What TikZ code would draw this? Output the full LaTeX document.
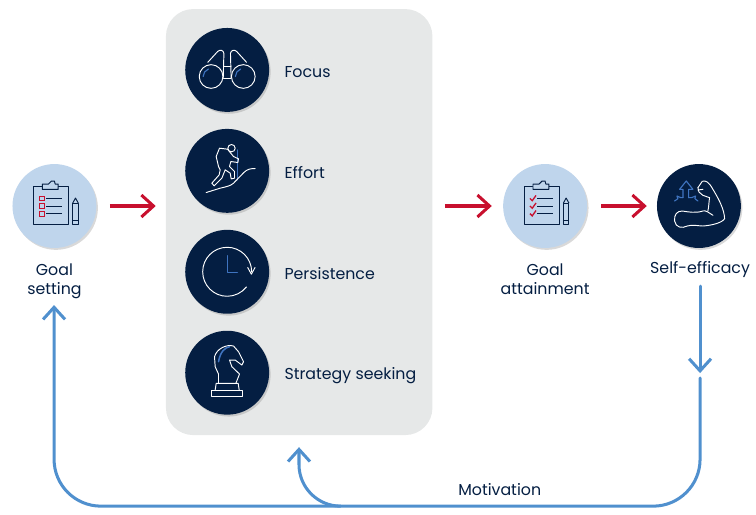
\documentclass[tikz,border=0pt]{standalone}
\usepackage{xcolor}
\usepackage{fontspec}
\setmainfont{Poppins}
\usetikzlibrary{arrows.meta,shadows}
\definecolor{navyblue}{HTML}{041E42}
\definecolor{paleblue}{HTML}{BFD5EC}
\definecolor{panelgrey}{HTML}{E6E8E8}
\definecolor{crimson}{HTML}{C8102E}
\definecolor{loopblue}{HTML}{5090CE}
\definecolor{iconblue}{HTML}{3F74C0}
\tikzset{
  darkdot/.style={circle,fill=navyblue,minimum size=2.22cm,inner sep=0pt,drop shadow={shadow xshift=0.4mm,shadow yshift=-0.5mm,opacity=0.3}},
  paledot/.style={circle,fill=paleblue,minimum size=2.22cm,inner sep=0pt,drop shadow={shadow xshift=0.4mm,shadow yshift=-0.5mm,opacity=0.3}},
  lbl/.style={text=navyblue,inner sep=0pt,font=\fontsize{11.9pt}{14.4pt}\selectfont,align=center},
  redarrow/.style={crimson,line width=0.8mm,-{Straight Barb[length=3.2mm,width=5.8mm,line width=0.8mm]}},
  bluearrow/.style={loopblue,line width=0.8mm,line cap=round,-{Straight Barb[length=3.2mm,width=5.8mm,line width=0.8mm]}},
  iconline/.style={white,line width=0.25mm,line join=round,line cap=round},
  iconaccent/.style={iconblue,line width=0.3mm,line join=round,line cap=round},
  clipline/.style={navyblue,line width=0.25mm,line join=round}
}
% clipboard icon, drawn round the origin, #1 = the marks at the left of the lines
\newcommand{\clipicon}[1]{
  \draw[clipline] (-0.55,0.53) rectangle (0.37,-0.5);
  \draw[clipline,fill=paleblue] (-0.32,0.44) -- (-0.32,0.58) -- (-0.16,0.58) -- (-0.08,0.66) -- (0,0.66) -- (0.02,0.58) -- (0.1,0.58) -- (0.1,0.44) -- cycle;
  \foreach \yy in {0.2,0,-0.2} {
    \draw[clipline] (-0.21,\yy) -- (0.21,\yy);
    #1
  }
  \draw[clipline] (0.485,-0.5) rectangle (0.63,0.08);
  \draw[clipline] (0.485,0.08) -- (0.557,0.21) -- (0.63,0.08);
  \draw[clipline] (0.485,-0.39) -- (0.63,-0.39);
}
\begin{document}
\begin{tikzpicture}[x=0.1cm,y=-0.1cm]
  \useasboundingbox (0,0) rectangle (200,136.24);
  \fill[panelgrey,rounded corners=0.72cm] (43.9,2.4) rectangle (114.4,115.1);
  % circles
  \node[paledot] (goalset) at (14.4,54.5) {};
  \node[paledot] (goalatt) at (144.2,54.5) {};
  \node[darkdot] (efficacy) at (184.9,54.5) {};
  \node[darkdot] (focus) at (60.1,18.5) {};
  \node[darkdot] (effort) at (60.1,45.2) {};
  \node[darkdot] (persist) at (60.1,71.9) {};
  \node[darkdot] (strategy) at (60.1,98.6) {};
  % labels
  \node[lbl,anchor=west] (focustxt) at (75.2,19) {Focus};
  \node[lbl,anchor=west] (efforttxt) at (75.2,45.7) {Effort};
  \node[lbl,anchor=west] (persisttxt) at (75.2,72.4) {Persistence};
  \node[lbl,anchor=west] (strategytxt) at (75.2,99.3) {Strategy seeking};
  \node[lbl] (goalsettxt) at (14.4,74.4) {Goal\\setting};
  \node[lbl] (goalatttxt) at (144.2,73.9) {Goal\\attainment};
  \node[lbl] (efficacytxt) at (185.2,71.3) {Self-efficacy};
  \node[lbl] (motivtxt) at (132.2,129.6) {Motivation};
  % red arrows
  \coordinate (r1a) at (29.1,54.5);  \coordinate (r1b) at (41.2,54.5);
  \coordinate (r2a) at (117.7,54.5); \coordinate (r2b) at (130.1,54.5);
  \coordinate (r3a) at (159,54.5); \coordinate (r3b) at (171.1,54.5);
  \draw[redarrow] (r1a) -- (r1b);
  \draw[redarrow] (r2a) -- (r2b);
  \draw[redarrow] (r3a) -- (r3b);
  % blue loop
  \coordinate (dropa) at (185.2,75.7);
  \coordinate (dropb) at (185.2,98.7);
  \coordinate (loopa) at (185.2,100);
  \coordinate (goalend) at (14.3,80.7);
  \coordinate (panelend) at (79.1,118.3);
  \draw[bluearrow] (dropa) -- (dropb);
  \draw[bluearrow] (loopa) -- (185.2,121.5) arc[start angle=0,end angle=90,radius=12.4] -- (26.7,133.9) arc[start angle=90,end angle=180,radius=12.4] -- (goalend);
  \draw[bluearrow] (90.1,133.9) arc[start angle=90,end angle=180,radius=11] -- (panelend);
  % binoculars
  \begin{scope}[shift={(focus)},x=0.087cm,y=-0.087cm]
    \draw[iconline] (-4.9,2) circle[radius=3.6];
    \draw[iconline] (4.9,2) circle[radius=3.6];
    \draw[iconline] (-5.9,-2.3) -- (-2.9,-5.6) .. controls (-2.2,-6.3) and (-1.1,-6) .. (-1,-5) -- (-1.2,2.5);
    \draw[iconline] (5.9,-2.3) -- (2.9,-5.6) .. controls (2.2,-6.3) and (1.1,-6) .. (1,-5) -- (1.2,2.5);
    \draw[iconline] (-1.1,-1.2) -- (1.1,-1.2) (-1.1,2.5) -- (1.1,2.5);
    \draw[iconaccent] (-7.3,2) arc[start angle=180,end angle=250,radius=2.4];
    \draw[iconaccent] (2.5,2) arc[start angle=180,end angle=250,radius=2.4];
  \end{scope}
  % hiker
  \begin{scope}[shift={(effort)},x=0.00882cm,y=-0.00882cm]
    \draw[iconline] (13,-68) circle[radius=11];
    \draw[iconaccent] (32,-63) -- (32,27);
    \draw[iconline] (1,-65) -- (19,-43) -- (34,-36) -- (32,-25) -- (11,-28) -- (7,-13) -- (22,2) -- (22,22) -- (12,24) -- (9,7) -- (-6,-3) -- (-16,22) -- (-39,45) -- (-46,37) -- (-24,12) -- (-21,-3) -- (-26,-13) -- (-33,-43) -- (-23,-68) -- cycle;
    \draw[iconline] (-63,65) -- (-21,52) .. controls (0,47) and (10,45) .. (19,37) -- (50,5) .. controls (60,-5) and (70,-7) .. (84,-7);
  \end{scope}
  % clock
  \begin{scope}[shift={(persist)},x=0.08cm,y=-0.08cm]
    \draw[iconline] (8.1,0) arc[start angle=0,end angle=-322,radius=8.1];
    \draw[iconline] (6.8,-1.4) -- (8,0.8) -- (9.2,-1.4);
    \draw[iconaccent] (0,-5.3) -- (0,0.3) -- (3.4,0.3);
  \end{scope}
  % knight
  \begin{scope}[shift={(strategy)},x=0.00882cm,y=-0.00882cm]
    \draw[iconline] (-26,32) -- (-26,4) -- (-36,-18) -- (-38,-48) .. controls (-31,-73) and (-1,-86) .. (19,-80) -- (34,-63) -- (49,-33) -- (44,-23) -- (24,-38) -- (7,-38) -- (14,-18) -- (37,4) -- (26,32);
    \draw[iconline] (-36,52) -- (-33,32) -- (33,32) -- (36,52);
    \draw[iconline] (-46,52) -- (47,52) -- (47,72) -- (-46,72) -- cycle;
    \draw[iconaccent,line width=0.4mm] (-26,-33) .. controls (-21,-63) and (-6,-76) .. (7,-78);
  \end{scope}
  % muscle
  \begin{scope}[shift={(efficacy)},x=0.00882cm,y=-0.00882cm]
    \draw[iconline] (-3,-55) -- (10,-74) .. controls (20,-78) and (30,-72) .. (42,-50) .. controls (60,-20) and (76,10) .. (77,38) .. controls (70,50) and (40,58) .. (12,60) .. controls (0,60) and (-20,55) .. (-35,60) .. controls (-50,68) and (-70,65) .. (-73,45) .. controls (-75,25) and (-65,15) .. (-50,15) .. controls (-30,18) and (-10,22) .. (12,15) .. controls (20,12) and (30,20) .. (42,28);
    \draw[iconline] (27,15) .. controls (30,0) and (30,-15) .. (32,-25) -- (12,-32) -- (0,-42) -- (-3,-55);
    \draw[iconline] (-3,-48) -- (12,-50);
    \draw[iconaccent] (-48,-25) -- (-48,-50) -- (-58,-50) -- (-38,-75) -- (-18,-50) -- (-31,-50) -- (-31,-25);
    \draw[iconaccent] (-73,-15) -- (-63,-22) -- (-66,-30) -- (-54,-25) -- (-48,-25);
    \draw[iconaccent] (-3,-15) -- (-12,-22) -- (-10,-30) -- (-22,-25) -- (-31,-25);
  \end{scope}
  % clipboards
  \begin{scope}[shift={(goalset)},x=1cm,y=1cm]
    \clipicon{\draw[crimson,line width=0.25mm] (-0.39,\yy-0.065) rectangle (-0.26,\yy+0.065);}
  \end{scope}
  \begin{scope}[shift={(goalatt)},x=1cm,y=1cm]
    \clipicon{\draw[crimson,line width=0.35mm] (-0.4,\yy) -- (-0.34,\yy-0.06) -- (-0.24,\yy+0.08);}
  \end{scope}
\end{tikzpicture}
\end{document}
